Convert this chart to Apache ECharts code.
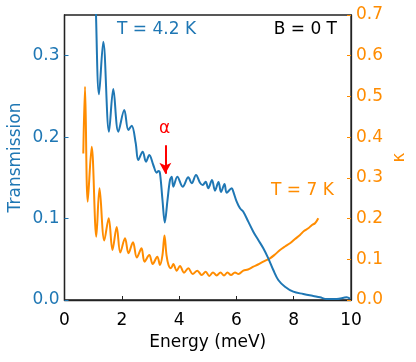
<!DOCTYPE html>
<html><head><meta charset="utf-8">
<script src="https://cdn.jsdelivr.net/npm/echarts@6/dist/echarts.min.js"></script>
<style>html,body{margin:0;padding:0;background:#fff}#c{width:416px;height:362px}</style>
</head><body><div id="c"></div>
<script>
const blueEnergy = [1.07,1.10,1.204,1.354,1.553,1.703,1.878,2.087,2.227,2.346,2.485,2.576,2.729,2.845,2.960,3.099,3.218,3.281,3.333,3.42,3.50,3.595,3.682,3.742,3.798,3.937,4.126,4.321,4.440,4.590,4.729,4.824,4.928,5.019,5.148,5.253,5.375,5.463,5.585,5.661,5.836,5.892,6.010,6.126,6.241,6.415,6.590,6.764,6.939,7.113,7.288,7.462,7.696,7.986,8.335,8.684,8.918,9.152,9.501,9.850,9.965];
const blueTransmission = [0.42,0.350,0.2526,0.3172,0.2067,0.2591,0.2067,0.2333,0.2088,0.2141,0.1928,0.1719,0.1821,0.1698,0.1781,0.1658,0.1563,0.1584,0.1556,0.1228,0.0952,0.1228,0.1474,0.1514,0.1391,0.1514,0.1391,0.1507,0.1433,0.1535,0.1440,0.1412,0.1453,0.1372,0.1474,0.1342,0.1449,0.1326,0.1425,0.1318,0.1372,0.1330,0.1207,0.1126,0.1084,0.0962,0.0839,0.0737,0.0635,0.0512,0.0368,0.0246,0.0163,0.0102,0.0074,0.0049,0.0033,0.0012,0.0012,0.0033,0.0016];
const orangeEnergy = [0.656,0.716,0.810,0.949,1.110,1.222,1.389,1.543,1.675,1.822,1.948,2.112,2.234,2.391,2.524,2.688,2.792,2.960,3.079,3.239,3.333,3.42,3.490,3.56,3.63,3.717,3.798,3.916,4.031,4.171,4.321,4.475,4.635,4.789,4.928,5.054,5.183,5.312,5.445,5.567,5.689,5.812,5.951,6.073,6.241,6.405,6.590,6.754,6.939,7.173,7.347,7.522,7.696,7.871,8.045,8.220,8.359,8.510,8.639,8.744,8.859];
const orangeKappa = [0.360,0.524,0.2415,0.3766,0.1555,0.2744,0.1462,0.2007,0.1228,0.1793,0.1167,0.1516,0.1147,0.1420,0.1044,0.1270,0.0941,0.1105,0.0884,0.1064,0.0860,0.1105,0.1584,0.1105,0.0860,0.0779,0.0884,0.0720,0.0835,0.0671,0.0779,0.0639,0.0720,0.0614,0.0695,0.0590,0.0676,0.0602,0.0676,0.0602,0.0676,0.0614,0.0676,0.0639,0.0720,0.0749,0.0818,0.0872,0.0941,0.1024,0.1118,0.1228,0.1314,0.1393,0.1498,0.1597,0.1695,0.1761,0.1842,0.1884,0.2007];
const xTicks = [0,2,4,6,8,10];
const alphaArrow = {energy: 3.52, from: 0.190, to: 0.155};

const BLUE = '#1f77b4', ORANGE = '#ff8c00', FONT = 'DejaVu Sans';
const chart = echarts.init(document.getElementById('c'), null, {renderer: 'canvas'});
chart.setOption({
  animation: false,
  grid: {left: 64.5, right: 65, top: 15, bottom: 62, show: true, borderColor: '#222', borderWidth: 1.3, backgroundColor: 'transparent', outerBoundsMode: 'none', containLabel: false},
  xAxis: {
    type: 'value', min: xTicks[0], max: xTicks[xTicks.length-1], interval: 2,
    name: 'Energy (meV)', nameLocation: 'middle', nameGap: 32,
    nameTextStyle: {fontFamily: FONT, fontSize: 17, color: '#000'},
    axisLine: {lineStyle: {color: '#222', width: 1.3}},
    axisTick: {inside: true, length: 4, lineStyle: {color: '#222'}},
    axisLabel: {fontFamily: FONT, fontSize: 17, color: '#000', margin: 12},
    splitLine: {show: false}
  },
  yAxis: [{
    type: 'value', min: 0, max: 0.35, interval: 0.1, position: 'left',
    name: 'Transmission', nameLocation: 'middle', nameGap: 40, nameRotate: 90, nameMoveOverlap: false,
    nameTextStyle: {fontFamily: FONT, fontSize: 17, color: BLUE},
    axisLine: {show: true, lineStyle: {color: '#222', width: 1.3}},
    axisTick: {show: true, inside: true, length: 4, lineStyle: {color: BLUE}},
    axisLabel: {fontFamily: FONT, fontSize: 17, color: BLUE, margin: 5, showMaxLabel: false, formatter: v => v.toFixed(1)},
    splitLine: {show: false}
  }, {
    type: 'value', min: 0, max: 0.7, interval: 0.1, position: 'right',
    name: 'κ', nameLocation: 'middle', nameGap: 40, nameRotate: 90, nameMoveOverlap: false,
    nameTextStyle: {fontFamily: FONT, fontSize: 17, color: ORANGE},
    axisLine: {show: true, lineStyle: {color: '#222', width: 1.3}},
    axisTick: {show: true, inside: true, length: 4, lineStyle: {color: ORANGE}},
    axisLabel: {fontFamily: FONT, fontSize: 17, color: ORANGE, margin: 5, formatter: v => v.toFixed(1)},
    splitLine: {show: false}
  }],
  series: [{
    type: 'line', yAxisIndex: 1, showSymbol: false, smooth: 0.35, clip: true,
    lineStyle: {color: ORANGE, width: 2},
    data: orangeEnergy.map((e, i) => [e, orangeKappa[i]])
  }, {
    type: 'line', yAxisIndex: 0, showSymbol: false, smooth: 0.35, clip: true,
    lineStyle: {color: BLUE, width: 2},
    data: blueEnergy.map((e, i) => [e, blueTransmission[i]]),
    markLine: {
      silent: true, symbol: ['none', 'arrow'], symbolSize: [9, 11],
      label: {show: false},
      lineStyle: {color: '#ff0000', width: 2, type: 'solid'},
      data: [[{coord: [alphaArrow.energy, alphaArrow.from]}, {coord: [alphaArrow.energy, alphaArrow.to]}]]
    }
  }],
  graphic: [
    {type: 'text', left: 117, top: 21, style: {text: 'T = 4.2 K', fill: BLUE, font: '17px "DejaVu Sans"'}},
    {type: 'text', right: 79, top: 21, style: {text: 'B = 0 T', fill: '#000', font: '17px "DejaVu Sans"'}},
    {type: 'text', left: 159, top: 120, style: {text: 'α', fill: '#ff0000', font: '17px "DejaVu Sans"'}},
    {type: 'text', left: 271, top: 182, style: {text: 'T = 7 K', fill: ORANGE, font: '17px "DejaVu Sans"'}}
  ]
});
</script></body></html>
